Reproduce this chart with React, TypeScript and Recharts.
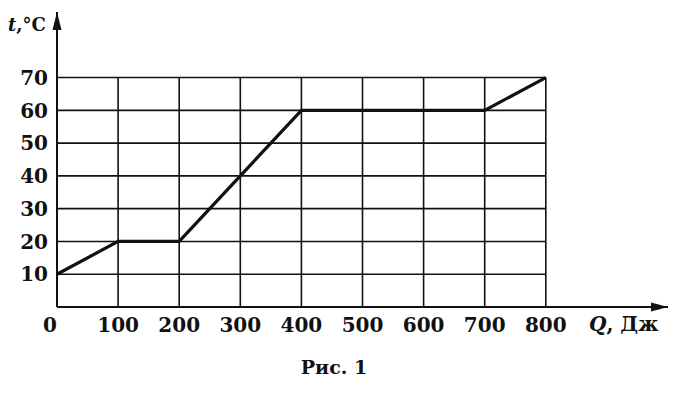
import { LineChart, Line, XAxis, YAxis, ReferenceLine, ReferenceDot } from 'recharts';

// Q, J (heat) and t, °C (temperature) break points of the graph
const heatQ = [0, 100, 200, 300, 400, 700, 800];
const tempT = [10, 20, 20, 40, 60, 60, 70];

const xTicks = [0, 100, 200, 300, 400, 500, 600, 700, 800];
const yTicks = [10, 20, 30, 40, 50, 60, 70];

const data = heatQ.map((q, i) => ({ q, t: tempT[i] }));

const FONT = '"DejaVu Serif", "Liberation Serif", serif';
const INK = '#111';

function XTick(props: any) {
  const { x, y, payload } = props;
  const shift = payload.value === 0 ? -7 : 0;
  return (
    <text
      x={x + shift}
      y={y}
      dy="0.71em"
      textAnchor="middle"
      fontFamily={FONT}
      fontWeight="bold"
      fontSize={20}
      fill={INK}
    >
      {payload.value}
    </text>
  );
}

function YTick(props: any) {
  const { x, y, payload } = props;
  return (
    <text
      x={x}
      y={y}
      dy="0.36em"
      textAnchor="end"
      fontFamily={FONT}
      fontWeight="bold"
      fontSize={20}
      fill={INK}
    >
      {payload.value}
    </text>
  );
}

function XArrow(props: any) {
  const { cx, cy } = props;
  return <path d={`M${cx},${cy} L${cx - 17},${cy - 4.5} L${cx - 17},${cy + 4.5} Z`} fill={INK} />;
}

function YArrow(props: any) {
  const { cx, cy } = props;
  return <path d={`M${cx},${cy} L${cx - 4.5},${cy + 18} L${cx + 4.5},${cy + 18} Z`} fill={INK} />;
}

export default function App() {
  return (
    <div style={{ position: 'absolute', left: 0, top: 0, width: 676, height: 394, background: '#fff' }}>
      <LineChart
        width={676}
        height={394}
        data={data}
        margin={{ top: 12, right: 8, left: 0, bottom: 57 }}
      >
        <XAxis
          dataKey="q"
          type="number"
          domain={[0, 1000]}
          ticks={xTicks}
          tickSize={0}
          tickMargin={11}
          tick={<XTick />}
          axisLine={{ stroke: INK, strokeWidth: 2 }}
          height={30}
          interval={0}
        />
        <YAxis
          type="number"
          domain={[0, 90]}
          ticks={yTicks}
          tickSize={0}
          tickMargin={9}
          width={57}
          tick={<YTick />}
          axisLine={{ stroke: INK, strokeWidth: 2 }}
          interval={0}
        />
        {yTicks.map((v) => (
          <ReferenceLine
            key={`h-${v}`}
            segment={[{ x: 0, y: v }, { x: 800, y: v }]}
            stroke={INK}
            strokeWidth={1.6}
          />
        ))}
        {xTicks.slice(1).map((v) => (
          <ReferenceLine
            key={`v-${v}`}
            segment={[{ x: v, y: 0 }, { x: v, y: 70 }]}
            stroke={INK}
            strokeWidth={1.6}
          />
        ))}
        <ReferenceDot x={1000} y={0} r={0} shape={<XArrow />} ifOverflow="visible" />
        <ReferenceDot x={0} y={90} r={0} shape={<YArrow />} ifOverflow="visible" />
        <Line
          type="linear"
          dataKey="t"
          stroke={INK}
          strokeWidth={3.2}
          dot={false}
          isAnimationActive={false}
        />
      </LineChart>
      <div
        style={{
          position: 'absolute',
          left: 8,
          top: 14,
          fontFamily: FONT,
          fontWeight: 'bold',
          fontSize: 18,
          color: INK,
        }}
      >
        <i>t</i>,°C
      </div>
      <div
        style={{
          position: 'absolute',
          left: 589,
          top: 312,
          fontFamily: FONT,
          fontWeight: 'bold',
          fontSize: 20,
          color: INK,
        }}
      >
        <i>Q</i>, Дж
      </div>
      <div
        style={{
          position: 'absolute',
          left: 0,
          width: 668,
          top: 356,
          textAlign: 'center',
          fontFamily: FONT,
          fontWeight: 'bold',
          fontSize: 19,
          color: INK,
        }}
      >
        Рис. 1
      </div>
    </div>
  );
}
